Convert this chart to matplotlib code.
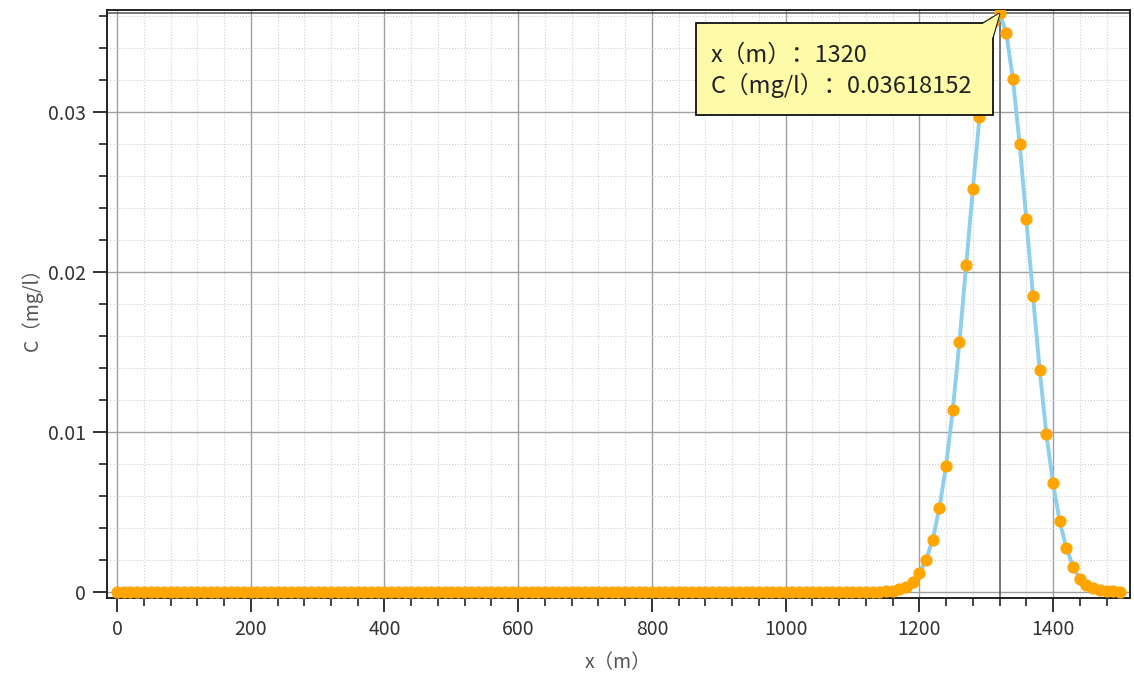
import numpy as np
import matplotlib
matplotlib.use("Agg")
import matplotlib.pyplot as plt
from matplotlib.patches import Rectangle, Polygon
from matplotlib.ticker import MultipleLocator, FuncFormatter

plt.rcParams['font.family'] = ['Noto Sans CJK SC', 'DejaVu Sans']

# distance along the river (m), every 10 m
x = np.arange(0, 1510, 10)

# concentration (mg/l)
c_zero = [0.0] * 114  # 0 .. 1130 m
c_wave = [0.00001, 0.00003, 0.00007, 0.00016, 0.00033, 0.00064, 0.00117,
          0.00200, 0.00325, 0.00523, 0.00790, 0.01138, 0.01564, 0.02044,
          0.02517, 0.02970, 0.03336, 0.03565, 0.03618152, 0.03498, 0.03206,
          0.02804, 0.02331, 0.01850, 0.01388, 0.00986, 0.00679, 0.00440,
          0.00273, 0.00158, 0.00079, 0.00044, 0.00023, 0.00012, 0.00006,
          0.00003, 0.00001]
c = np.array(c_zero + c_wave)

peak_x = 1320
peak_c = 0.03618152
tip_lines = ["x（m）：1320", "C（mg/l）：0.03618152"]

fig = plt.figure(figsize=(11.34, 6.86), dpi=100)
ax = fig.add_axes([0.0944, 0.128, 0.902, 0.8575])

ax.plot(x, c, color="#8dcfec", lw=2.8, zorder=3)
ax.plot(x, c, "o", color="#ffa500", ms=7.8, mec="#ffa500", zorder=4)

ax.set_xlim(-15, 1515)
ax.set_ylim(-0.0004, 0.0364)

ax.xaxis.set_major_locator(MultipleLocator(200))
ax.xaxis.set_minor_locator(MultipleLocator(40))
ax.yaxis.set_major_locator(MultipleLocator(0.01))
ax.yaxis.set_minor_locator(MultipleLocator(0.002))
ax.yaxis.set_major_formatter(FuncFormatter(lambda v, p: "0" if abs(v) < 1e-12 else "%g" % v))

ax.grid(which="major", color="#a0a0a0", lw=1.0, ls="-", zorder=1)
ax.grid(which="minor", color="#d0d0d0", lw=0.8, ls=":", zorder=1)

ax.tick_params(which="major", direction="out", length=10, width=1.3, pad=5,
               labelsize=14, labelcolor="#333333", color="#222222")
ax.tick_params(which="minor", direction="out", length=6, width=1.2, color="#222222")
for s in ax.spines.values():
    s.set_color("#222222")
    s.set_linewidth(1.4)

ax.set_xlabel("x（m）", fontsize=14, color="#555555", labelpad=9)
ax.set_ylabel("C（mg/l）", fontsize=14, color="#555555", labelpad=4)

# crosshair at the selected point
ax.axvline(peak_x, color="#555555", lw=1.1, zorder=2)
ax.axhline(peak_c, color="#555555", lw=1.1, zorder=2)

# tooltip
bx0, bx1 = 866, 1310
by0, by1 = 0.02981, 0.03556
ax.add_patch(Rectangle((bx0, by0), bx1 - bx0, by1 - by0, facecolor="#fdfaa8",
                       edgecolor="#111111", lw=1.3, zorder=6))
ax.add_patch(Polygon([(bx1 - 15, by1), (peak_x, peak_c), (bx1, by1 - 0.0009)],
                     closed=False, facecolor="#fdfaa8", edgecolor="#111111",
                     lw=1.3, zorder=7))
ax.add_patch(Polygon([(bx1 - 16, by1 - 0.00005), (peak_x, peak_c), (bx1 - 0.5, by1 - 0.0009)],
                     closed=True, facecolor="#fdfaa8", edgecolor="none", zorder=7))
ax.text(888, 0.03356, tip_lines[0], fontsize=17, color="#222222",
        va="center", ha="left", zorder=8)
ax.text(888, 0.03169, tip_lines[1], fontsize=17, color="#222222",
        va="center", ha="left", zorder=8)

fig.savefig("out.png", dpi=100)
